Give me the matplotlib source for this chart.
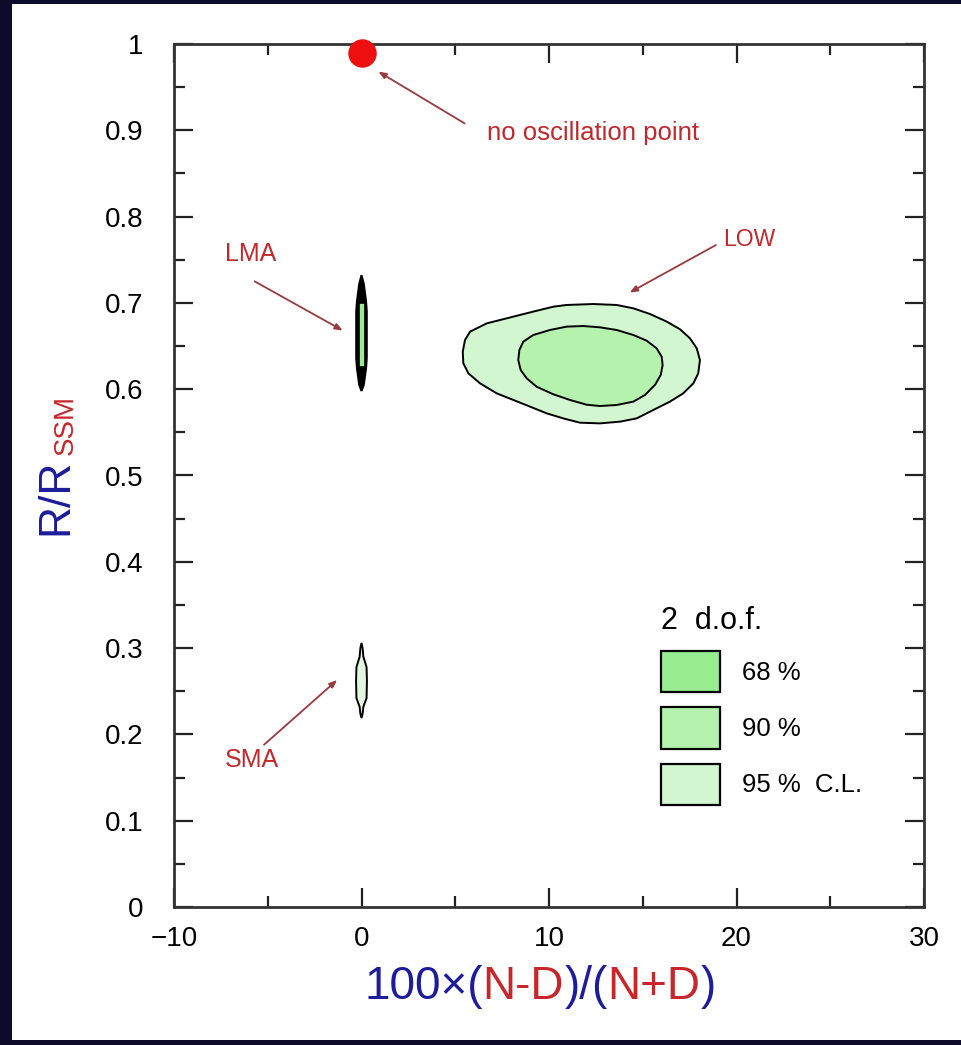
import numpy as np
import matplotlib
matplotlib.use("Agg")
import matplotlib.pyplot as plt
from matplotlib.patches import Patch, Rectangle
from matplotlib.offsetbox import TextArea, HPacker, AnchoredOffsetbox

# =========================================================
# Data
# =========================================================

x_ticks = [-10, 0, 10, 20, 30]
x_tick_labels = ["\u221210", "0", "10", "20", "30"]
y_ticks = [0, 0.1, 0.2, 0.3, 0.4, 0.5, 0.6, 0.7, 0.8, 0.9, 1.0]
y_tick_labels = ["0", "0.1", "0.2", "0.3", "0.4", "0.5", "0.6", "0.7", "0.8", "0.9", "1"]

# no oscillation point
nosc_x = [0.0]
nosc_y = [0.99]

# LOW solution, outer (95 %) contour
low_outer_x = [5.40, 5.52, 5.79, 6.68, 7.74, 9.16, 10.23, 10.94, 12.36, 13.61, 14.50,
               15.39, 16.28, 16.99, 17.52, 17.88, 18.05, 17.96, 17.70, 17.16, 16.45,
               15.56, 14.68, 13.79, 12.72, 11.65, 10.76, 9.88, 8.99, 8.10, 7.21,
               6.32, 5.70, 5.43]
low_outer_y = [0.6435, 0.6570, 0.6667, 0.6763, 0.6821, 0.6899, 0.6956, 0.6976, 0.6987,
               0.6976, 0.6937, 0.6871, 0.6783, 0.6694, 0.6589, 0.6474, 0.6338, 0.6184,
               0.6068, 0.5952, 0.5856, 0.5759, 0.5662, 0.5624, 0.5604, 0.5612, 0.5662,
               0.5720, 0.5798, 0.5875, 0.5952, 0.6068, 0.6184, 0.6300]

# LOW solution, inner contour
low_inner_x = [8.36, 8.42, 8.63, 9.16, 10.05, 10.94, 11.83, 12.72, 13.61, 14.50, 15.21,
               15.74, 16.01, 16.06, 15.96, 15.65, 15.12, 14.50, 13.61, 12.72, 12.01,
               11.12, 10.23, 9.34, 8.81, 8.49]
low_inner_y = [0.6338, 0.6454, 0.6551, 0.6628, 0.6686, 0.6725, 0.6732, 0.6717, 0.6686,
               0.6628, 0.6562, 0.6474, 0.6377, 0.6280, 0.6165, 0.6049, 0.5933, 0.5856,
               0.5817, 0.5805, 0.5820, 0.5875, 0.5941, 0.6029, 0.6126, 0.6222]

# LMA solution
lma_outer_x = [0.0, 0.12, 0.24, 0.28, 0.28, 0.24, 0.12, 0.0, -0.12, -0.24, -0.28, -0.28, -0.24, -0.12]
lma_outer_y = [0.732, 0.722, 0.702, 0.690, 0.636, 0.624, 0.605, 0.598, 0.605, 0.624, 0.636, 0.690, 0.702, 0.722]
lma_inner_x = [-0.16, 0.16, 0.16, -0.16]
lma_inner_y = [0.700, 0.700, 0.626, 0.626]

# SMA solution
sma_x = [0.0, 0.06, 0.10, 0.27, 0.29, 0.27, 0.10, 0.06, 0.0, -0.06, -0.10, -0.27, -0.29, -0.27, -0.10, -0.06]
sma_y = [0.306, 0.300, 0.290, 0.278, 0.262, 0.242, 0.232, 0.224, 0.219, 0.224, 0.232, 0.242, 0.262, 0.278, 0.290, 0.300]

cl_labels = ["68 %", "90 %", "95 %  C.L."]
cl_colors = ["#98ec92", "#b4f2ae", "#d2f6cf"]

# =========================================================
# Plot
# =========================================================

plt.rcParams["font.family"] = ["Liberation Sans", "DejaVu Sans"]

fig = plt.figure(figsize=(9.61, 10.45), dpi=100, facecolor="#0c0c2a")
fig.patches.append(Rectangle((12 / 961, 5 / 1045), 1 - 12 / 961, 1 - 9 / 1045,
                             transform=fig.transFigure, facecolor="white",
                             edgecolor="none", zorder=-10))

ax = fig.add_axes([174 / 961, 138 / 1045, 750 / 961, 863 / 1045])
ax.set_facecolor("white")

# confidence regions
ax.fill(low_outer_x, low_outer_y, facecolor=cl_colors[2], edgecolor="black", lw=1.4, zorder=2)
ax.fill(low_inner_x, low_inner_y, facecolor=cl_colors[1], edgecolor="black", lw=1.4, zorder=3)
ax.fill(lma_outer_x, lma_outer_y, facecolor="black", edgecolor="black", lw=1.5, zorder=2)
ax.fill(lma_inner_x, lma_inner_y, facecolor=cl_colors[0], edgecolor="black", lw=1.2, zorder=3)
ax.fill(sma_x, sma_y, facecolor="#e2f7de", edgecolor="black", lw=1.4, zorder=2)

# no oscillation point
ax.plot(nosc_x, nosc_y, "o", color="#ee1010", markersize=19.5, clip_on=False, zorder=5)

# annotations
txt_color = "#c0282c"
arr = dict(arrowstyle="-|>,head_length=0.45,head_width=0.18", color="#9a3a3e", lw=1.3,
           shrinkA=0, shrinkB=0)
ax.text(6.7, 0.897, "no oscillation point", color=txt_color, fontsize=18.5, va="center")
ax.annotate("", xy=(0.9, 0.968), xytext=(5.5, 0.908), arrowprops=arr)
ax.text(19.3, 0.773, "LOW", color=txt_color, fontsize=16.5, va="center")
ax.annotate("", xy=(14.3, 0.712), xytext=(18.9, 0.767), arrowprops=arr)
ax.text(-7.3, 0.757, "LMA", color=txt_color, fontsize=18, va="center")
ax.annotate("", xy=(-1.0, 0.668), xytext=(-5.7, 0.725), arrowprops=arr)
ax.text(-7.3, 0.170, "SMA", color=txt_color, fontsize=18, va="center")
ax.annotate("", xy=(-1.3, 0.263), xytext=(-5.2, 0.188), arrowprops=arr)

# legend
handles = [Patch(facecolor=c, edgecolor="black", lw=1.6) for c in cl_colors]
leg = ax.legend(handles, cl_labels, title="2  d.o.f.", loc="upper left",
                bbox_to_anchor=(15.95, 0.349), bbox_transform=ax.transData,
                frameon=False, fontsize=18.5, title_fontsize=22,
                handlelength=2.33, handleheight=2.11, labelspacing=0.58,
                handletextpad=0.82, borderaxespad=0, borderpad=0, alignment="left")

# axes
ax.set_xlim(-10, 30)
ax.set_ylim(0, 1)
ax.set_xticks(x_ticks)
ax.set_xticklabels(x_tick_labels)
ax.set_yticks(y_ticks)
ax.set_yticklabels(y_tick_labels)
ax.set_xticks(np.arange(-5, 30, 10), minor=True)
ax.set_yticks(np.arange(0.05, 1.0, 0.1), minor=True)
ax.tick_params(which="both", direction="in", top=True, right=True, width=1.6, color="#222222")
ax.tick_params(which="major", length=13.5, labelsize=20)
ax.tick_params(which="minor", length=8)
ax.tick_params(axis="y", which="major", pad=22)
ax.tick_params(axis="x", which="major", pad=14)
for s in ax.spines.values():
    s.set_linewidth(2)
    s.set_color("#333333")

# x label in two colours
blue = "#1c1c9c"
red = "#c8262a"
parts = [("100\u00d7(", blue), ("N-D", red), (")/(", blue), ("N+D", red), (")", blue)]
boxes = [TextArea(t, textprops=dict(color=c, fontsize=33)) for t, c in parts]
pack = HPacker(children=boxes, align="baseline", pad=0, sep=0)
xlab = AnchoredOffsetbox(loc="center", child=pack, pad=0, frameon=False, borderpad=0,
                         bbox_to_anchor=(540 / 961, 1 - 987 / 1045),
                         bbox_transform=fig.transFigure)
ax.add_artist(xlab)

# y label R/R_SSM
fig.text(56 / 961, 1 - 497 / 1045, "R/R", color=blue, fontsize=32, rotation=90,
         ha="center", va="center")
fig.text(66 / 961, 1 - 425 / 1045, "SSM", color=red, fontsize=20, rotation=90,
         ha="center", va="center")

# =========================================================
# Save Figure
# =========================================================

plt.savefig("out.png", dpi=100, facecolor=fig.get_facecolor())
